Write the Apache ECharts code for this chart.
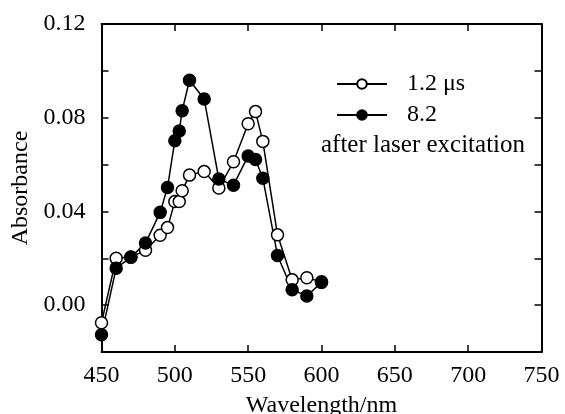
<!DOCTYPE html>
<html lang="en">
<head>
    <meta charset="UTF-8">
    <title>Absorbance spectrum</title>
    <style>
        html, body { margin: 0; padding: 0; background: #fff; }
        #container { width: 565px; height: 414px; }
    </style>
    <script src="https://cdn.jsdelivr.net/npm/echarts@6/dist/echarts.min.js"></script>
</head>
<body>
<div id="container"></div>
<script type="text/javascript">
    // wavelengths (nm)
    var wavelengths = [450, 460, 470, 480, 490, 495, 500, 503, 505, 510, 520, 530, 540, 550, 555, 560, 570, 580, 590, 600];
    // 1.2 us after excitation (open circles)
    var abs12 = [-0.0075, 0.0200, 0.0205, 0.0234, 0.0298, 0.0331, 0.0442, 0.0442, 0.0488, 0.0555, 0.0570, 0.0500, 0.0612, 0.0774, 0.0826, 0.0699, 0.0300, 0.0108, 0.0117, 0.0100];
    // 8.2 us after excitation (filled circles)
    var abs82 = [-0.0126, 0.0158, 0.0204, 0.0265, 0.0396, 0.0502, 0.0702, 0.0743, 0.0830, 0.0960, 0.0880, 0.0538, 0.0512, 0.0637, 0.0622, 0.0542, 0.0212, 0.0066, 0.0039, 0.0097];
    var seriesNames = ['1.2 \u03bcs', '8.2'];

    var font = 'Liberation Serif';
    var myChart = echarts.init(document.getElementById('container'));

    function pairs(ys) {
        return wavelengths.map(function (x, i) { return [x, ys[i]]; });
    }

    var tick = { show: true, inside: true, length: 7, lineStyle: { color: '#000', width: 1.5 } };
    var line = { show: true, onZero: false, lineStyle: { color: '#000', width: 2 } };

    var option = {
        backgroundColor: '#fff',
        animation: false,
        grid: { left: 101.5, right: 23.5, top: 24, bottom: 62, containLabel: false, outerBoundsMode: 'none' },
        legend: {
            orient: 'vertical',
            left: 331,
            top: 67,
            itemWidth: 50,
            itemHeight: 12,
            itemGap: 7,
            data: seriesNames,
            textStyle: { fontFamily: font, fontSize: 24, color: '#000', padding: [0, 0, 0, 15] }
        },
        graphic: [{
            type: 'text',
            left: 321,
            top: 133,
            style: { text: 'after laser excitation', fontFamily: font, fontSize: 25, fill: '#000' }
        }],
        xAxis: [{
            type: 'value', min: 450, max: 750, interval: 50,
            name: 'Wavelength/nm', nameLocation: 'middle', nameGap: 42,
            nameTextStyle: { fontFamily: font, fontSize: 24, color: '#000' },
            axisLine: line, axisTick: tick,
            axisLabel: { fontFamily: font, fontSize: 24, color: '#000', margin: 12 },
            splitLine: { show: false }
        }, {
            type: 'value', position: 'top', min: 450, max: 750, interval: 50,
            axisLine: line, axisTick: tick, axisLabel: { show: false }, splitLine: { show: false }
        }],
        yAxis: [{
            type: 'value', min: -0.02, max: 0.12, interval: 0.02,
            name: 'Absorbance', nameLocation: 'middle', nameGap: 63,
            nameTextStyle: { fontFamily: font, fontSize: 24, color: '#000' },
            axisLine: line, axisTick: tick,
            axisLabel: {
                fontFamily: font, fontSize: 24, color: '#000', margin: 16,
                formatter: function (v) {
                    return Math.round(v * 100) % 4 === 0 ? v.toFixed(2) : '';
                }
            },
            splitLine: { show: false }
        }, {
            type: 'value', position: 'right', min: -0.02, max: 0.12, interval: 0.02,
            axisLine: line, axisTick: tick, axisLabel: { show: false }, splitLine: { show: false }
        }],
        series: [{
            name: seriesNames[0],
            type: 'line',
            data: pairs(abs12),
            symbol: 'circle',
            symbolSize: 12,
            showAllSymbol: true,
            lineStyle: { color: '#000', width: 1.5 },
            itemStyle: { color: '#fff', borderColor: '#000', borderWidth: 1.5 }
        }, {
            name: seriesNames[1],
            type: 'line',
            data: pairs(abs82),
            symbol: 'circle',
            symbolSize: 12,
            showAllSymbol: true,
            lineStyle: { color: '#000', width: 1.5 },
            itemStyle: { color: '#000', borderColor: '#000', borderWidth: 1.5 }
        }]
    };

    myChart.setOption(option);
</script>
</body>
</html>
